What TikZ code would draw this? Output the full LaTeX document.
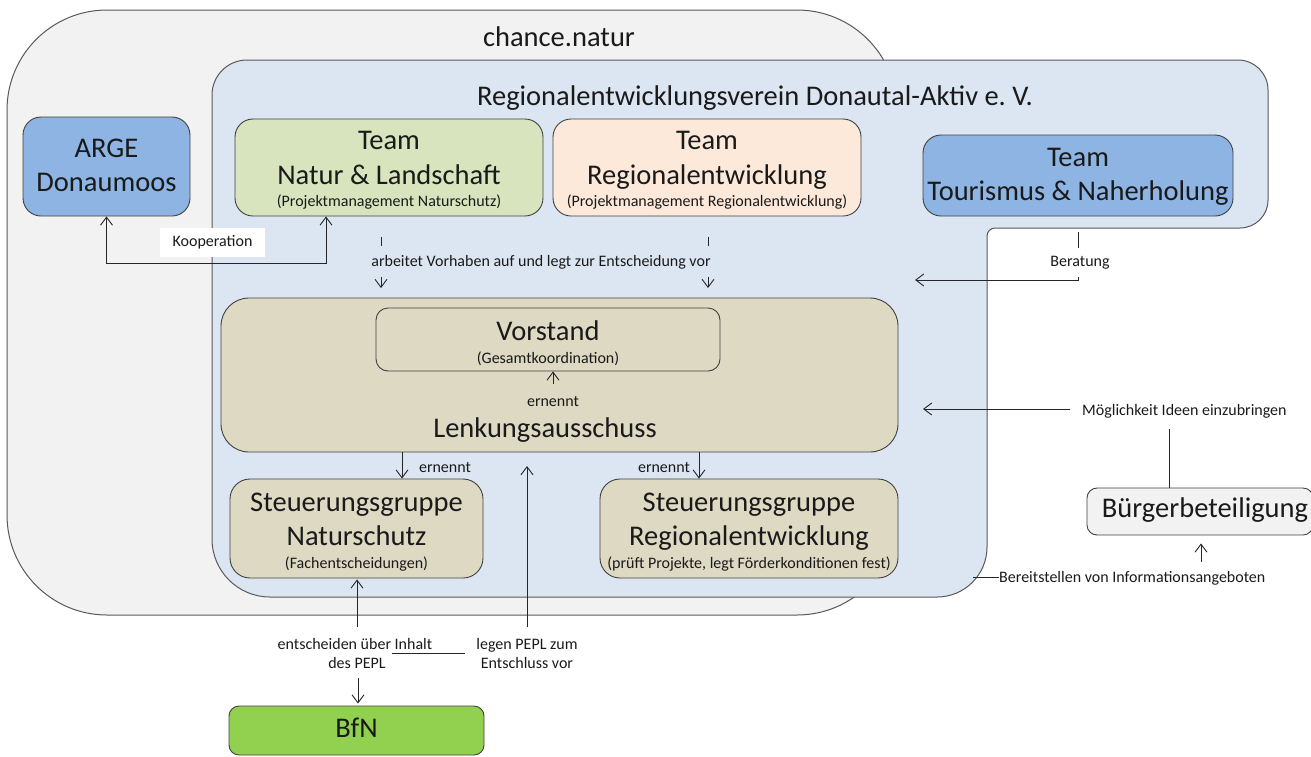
\documentclass[tikz,border=0pt]{standalone}
\usepackage{fontspec}
\setmainfont{Carlito}
\usetikzlibrary{arrows.meta}
\frenchspacing
\definecolor{graybg}{HTML}{F2F2F2}
\definecolor{bluebg}{HTML}{DCE6F2}
\definecolor{bluebox}{HTML}{8DB4E2}
\definecolor{greenbox}{HTML}{D7E4BD}
\definecolor{peachbox}{HTML}{FDE9D9}
\definecolor{tanbox}{HTML}{DDD9C3}
\definecolor{bfngreen}{HTML}{92D050}
\definecolor{edgecol}{HTML}{404040}
\definecolor{outlcol}{HTML}{595959}
\definecolor{txtcol}{HTML}{1A1A1A}
\definecolor{linecol}{HTML}{262626}
\newcommand{\bigtxt}{\fontsize{28.5}{34}\selectfont}
\newcommand{\smalltxt}{\fontsize{16}{19}\selectfont}
\begin{document}
\begin{tikzpicture}[x=1pt,y=-1pt,
  box/.style={draw=edgecol,line width=0.9pt,inner sep=0pt,rounded corners=18pt},
  bt/.style={font=\bigtxt,inner sep=0pt,anchor=base,text=txtcol},
  st/.style={font=\smalltxt,inner sep=0pt,anchor=base,text=txtcol},
  arr/.style={draw=linecol,line width=0.9pt,-{Straight Barb[length=8pt,width=12pt]}},
  darr/.style={draw=linecol,line width=0.9pt,{Straight Barb[length=8pt,width=12pt]}-{Straight Barb[length=8pt,width=12pt]}},
  ln/.style={draw=linecol,line width=0.9pt}]
\useasboundingbox (0,0) rectangle (1311,756);

% outer chance.natur region
\draw[draw=outlcol,fill=graybg,line width=1pt,rounded corners=100pt] (7,10) rectangle (897,615);
\node[bt] (chance) at (559,46) {chance.natur};

% Regionalentwicklungsverein region
\draw[draw=outlcol,fill=bluebg,line width=1pt]
  [rounded corners=35pt] (212,300) -- (212,60) -- (640,60)
  [rounded corners=30pt] -- (1268,60) -- (1268,140)
  [rounded corners=28pt] -- (1268,228) -- (1100,228)
  [rounded corners=8pt] -- (987,228) -- (987,400)
  [rounded corners=50pt] -- (987,597) -- (600,597)
  [rounded corners=58pt] -- (212,597) -- (212,450) -- cycle;
\node[bt] (verein) at (755,105) {Regionalentwicklungsverein Donautal-Aktiv e. V.};

% boxes
\node[box,fill=bluebox,minimum width=167pt,minimum height=99pt] (arge) at (106.5,166.5) {};
\node[bt] (argeA) at (106.5,157) {ARGE};
\node[bt] (argeB) at (106.5,191) {Donaumoos};

\node[box,fill=greenbox,minimum width=308pt,minimum height=97pt] (tnl) at (389,167.5) {};
\node[bt] (tnlA) at (389,149) {Team};
\node[bt] (tnlB) at (389,184) {Natur \& Landschaft};
\node[st] (tnlC) at (389,206) {(Projektmanagement Naturschutz)};

\node[box,fill=peachbox,minimum width=308pt,minimum height=97pt] (trg) at (707,167.5) {};
\node[bt] (trgA) at (707,149) {Team};
\node[bt] (trgB) at (707,184) {Regionalentwicklung};
\node[st] (trgC) at (707,206) {(Projektmanagement Regionalentwicklung)};

\node[box,fill=bluebox,minimum width=310pt,minimum height=81pt] (ttn) at (1078,175.5) {};
\node[bt] (ttnA) at (1078,166) {Team};
\node[bt] (ttnB) at (1078,200) {Tourismus \& Naherholung};

\node[box,fill=tanbox,rounded corners=28pt,minimum width=677pt,minimum height=154pt] (lenk) at (559.5,375) {};
\node[box,fill=tanbox,rounded corners=12pt,minimum width=344pt,minimum height=63pt] (vor) at (548,339.5) {};
\node[bt] (vorA) at (548,340) {Vorstand};
\node[st] (vorB) at (548,363) {(Gesamtkoordination)};
\node[st] (ern0) at (553,406) {ernennt};
\node[bt] (lenkA) at (545,437) {Lenkungsausschuss};

\node[box,fill=tanbox,rounded corners=20pt,minimum width=253pt,minimum height=99pt] (sn) at (356.5,528.5) {};
\node[bt] (snA) at (356.5,511) {Steuerungsgruppe};
\node[bt] (snB) at (356.5,545) {Naturschutz};
\node[st] (snC) at (356.5,568) {(Fachentscheidungen)};

\node[box,fill=tanbox,rounded corners=20pt,minimum width=298pt,minimum height=99pt] (sr) at (749,528.5) {};
\node[bt] (srA) at (749,511) {Steuerungsgruppe};
\node[bt] (srB) at (749,545) {Regionalentwicklung};
\node[st] (srC) at (749,568) {(prüft Projekte, legt Förderkonditionen fest)};

\node[box,fill=bfngreen,rounded corners=10pt,minimum width=255pt,minimum height=49pt] (bfn) at (356.5,730.5) {};
\node[bt] (bfnA) at (356.5,737) {BfN};

\node[box,fill=graybg,rounded corners=10pt,minimum width=226pt,minimum height=47pt] (buerger) at (1200,511.5) {};
\node[bt] (buergerA) at (1205,517) {Bürgerbeteiligung};

% Kooperation
\coordinate (kooR) at (326,263);
\draw[darr] (arge.south) |- (kooR) -- (kooR |- tnl.south);
\node[fill=white,inner sep=0pt,minimum width=105pt,minimum height=29pt,font=\smalltxt,text=txtcol] (koop) at (212.5,242.5) {Kooperation};

% arbeitet Vorhaben auf ...
\coordinate (a1s) at (381,237);
\coordinate (a1e) at (381,288);
\coordinate (a2s) at (708,237);
\coordinate (a2e) at (708,288);
\draw[arr] (a1s) -- (a1e);
\draw[arr] (a2s) -- (a2e);
\node[st,fill=bluebg,inner xsep=3pt,inner ysep=8.5pt] (arbeit) at (541,266) {arbeitet Vorhaben auf und legt zur Entscheidung vor};

% ernennt arrows
\coordinate (ev) at (553,384);
\draw[arr] (ev) -- (ev |- vor.south);
\coordinate (e1) at (402,452);
\draw[arr] (e1) -- (e1 |- sn.north);
\node[st] (ern1) at (445,472) {ernennt};
\coordinate (e2) at (699,452);
\draw[arr] (e2) -- (e2 |- sr.north);
\node[st] (ern2) at (664,472) {ernennt};

% bottom connectors
\coordinate (es) at (357,627);
\draw[arr] (es) -- ([yshift=-1pt]es |- sn.south);
\coordinate (lp) at (527,627);
\coordinate (lpe) at (527,466);
\draw[arr] (lp) -- (lpe);
\node[st] (entA) at (355,649) {entscheiden über Inhalt};
\node[st] (entB) at (357,668) {des PEPL};
\node[st] (legA) at (527,649) {legen PEPL zum};
\node[st] (legB) at (527,668) {Entschluss vor};
\coordinate (hl1) at (392,653);
\coordinate (hl2) at (465,653);
\draw[ln] (hl1) -- (hl2);
\coordinate (bs) at (358,678);
\draw[arr,shorten >=2pt] (bs) -- (bs |- bfn.north);

% Beratung
\coordinate (b1) at (1078,232);
\coordinate (b2) at (915,280);
\draw[arr] (b1) |- (b2);
\node[st,fill=white,inner xsep=3pt,inner ysep=8pt] (berat) at (1080,266) {Beratung};

% Moeglichkeit Ideen einzubringen
\node[st,anchor=base west] (moeg) at (1082,415) {Möglichkeit Ideen einzubringen};
\coordinate (m1) at (1070,409);
\coordinate (m2) at (923,409);
\draw[arr] (m1) -- (m2);
\coordinate (v1) at (1169,429);
\draw[ln] (v1) -- (v1 |- buerger.north);

% Buergerbeteiligung arrow and Bereitstellen
\coordinate (u1) at (1201,562);
\draw[arr,shorten >=8pt] (u1) -- (u1 |- buerger.south);
\node[st,anchor=base west] (bereit) at (999,582) {Bereitstellen von Informationsangeboten};
\coordinate (r1) at (973,577);
\draw[ln] (r1) -- (r1 -| bereit.west);
\end{tikzpicture}
\end{document}
